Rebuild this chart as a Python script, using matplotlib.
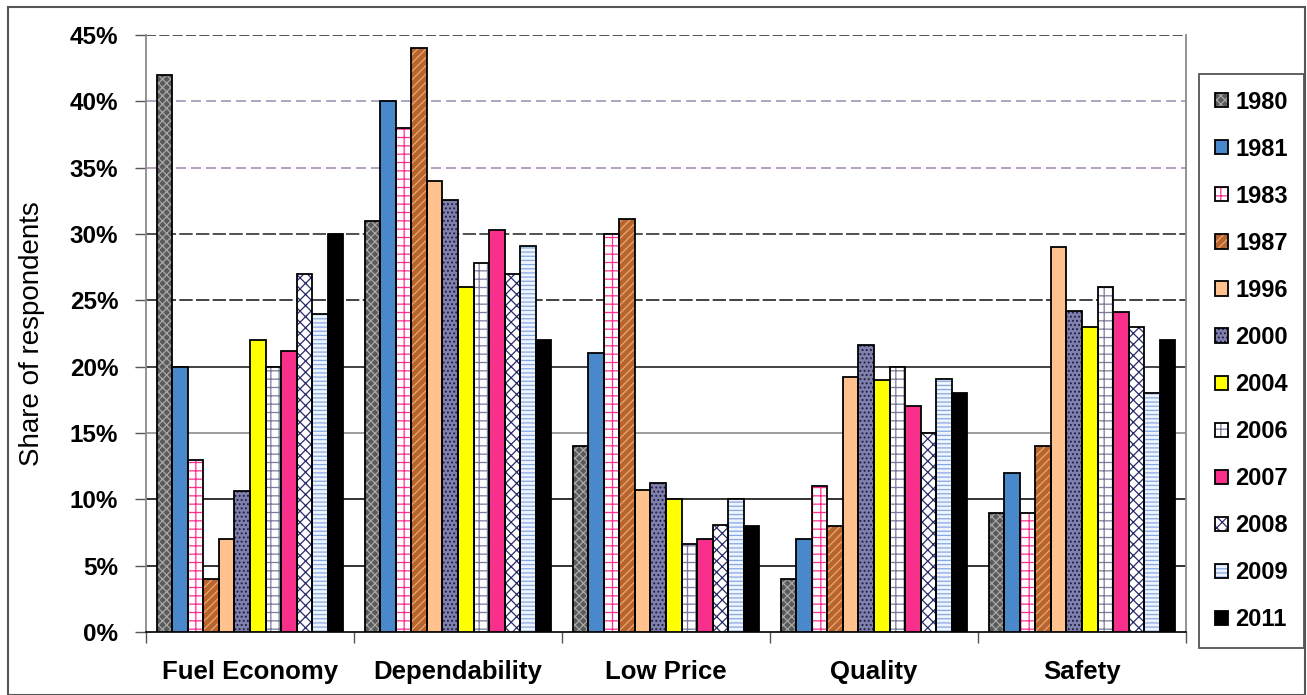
import matplotlib
matplotlib.use("Agg")
import matplotlib.pyplot as plt
import numpy as np
from matplotlib.patches import Patch, Rectangle
from matplotlib.legend_handler import HandlerTuple

plt.rcParams['font.family'] = ['Liberation Sans', 'DejaVu Sans']
plt.rcParams['hatch.linewidth'] = 0.9

categories = ["Fuel Economy", "Dependability", "Low Price", "Quality", "Safety"]
years = ["1980", "1981", "1983", "1987", "1996", "2000",
         "2004", "2006", "2007", "2008", "2009", "2011"]

# share of respondents (%) per year, ordered as in `categories`
s1980 = [42, 31, 14, 4, 9]
s1981 = [20, 40, 21, 7, 12]
s1983 = [13, 38, 30, 11, 9]
s1987 = [4, 44, 31.1, 8, 14]
s1996 = [7, 34, 10.7, 19.2, 29]
s2000 = [10.6, 32.6, 11.2, 21.6, 24.2]
s2004 = [22, 26, 10, 19, 23]
s2006 = [20, 27.8, 6.6, 20, 26]
s2007 = [21.2, 30.3, 7, 17, 24.1]
s2008 = [27, 27, 8.1, 15, 23]
s2009 = [24, 29.1, 10, 19.1, 18]
s2011 = [30, 22, 8, 18, 22]
series = [s1980, s1981, s1983, s1987, s1996, s2000,
          s2004, s2006, s2007, s2008, s2009, s2011]

yticks = [0, 5, 10, 15, 20, 25, 30, 35, 40, 45]

# fill colour, pattern colour, hatch pattern for each year
styles = [
    ("#5a5a5a", "#a8a8a8", "xxxx"),
    ("#4a88cc", "#5b97d6", ""),
    ("#ffffff", "#ff2f8e", "++"),
    ("#b8642c", "#e7a878", "////"),
    ("#ffc18e", "#ffd6b0", ""),
    ("#8080a8", "#1c1c52", "...."),
    ("#ffff00", "#ffff00", ""),
    ("#ffffff", "#7a7a9a", "++"),
    ("#f8308c", "#f8308c", ""),
    ("#ffffff", "#2a2a6a", "xxx"),
    ("#eef4ff", "#86a8e0", "----"),
    ("#000000", "#000000", ""),
]

W, H = 1307, 695
fig = plt.figure(figsize=(W / 100, H / 100), dpi=100)
ax = fig.add_axes([146 / W, 63 / H, (1186 - 146) / W, (632 - 35) / H])

n = len(years)
bw = 0.0747
x = np.arange(len(categories))
handles = []
for i, (vals, (fc, hc, hatch)) in enumerate(zip(series, styles)):
    pos = x + (i - (n - 1) / 2) * bw
    ax.bar(pos, vals, bw, color=fc, edgecolor=hc, hatch=hatch, linewidth=0, zorder=3)
    ax.bar(pos, vals, bw, fill=False, edgecolor="black", linewidth=1.3, zorder=4)
    h_fill = Patch(facecolor=fc, edgecolor=hc, hatch=hatch, linewidth=0)
    h_edge = Patch(facecolor="none", edgecolor="black", linewidth=1.3)
    handles.append((h_fill, h_edge))

ax.set_xlim(-0.5, len(categories) - 0.5)
ax.set_ylim(0, 45)

# horizontal gridlines
grid_styles = {
    45: ("#333333", (0, (6, 2))),
    40: ("#9a9ab4", (0, (6, 3))),
    35: ("#a890b0", (0, (6, 3))),
    30: ("#333333", (0, (8, 2))),
    25: ("#222222", (0, (8, 2))),
    20: ("#222222", "-"),
    15: ("#8c8c8c", "-"),
    10: ("#111111", "-"),
    5: ("#111111", "-"),
}
for yv, (col, ls) in grid_styles.items():
    ax.axhline(yv, color=col, linestyle=ls, linewidth=1.2, zorder=1)

ax.set_yticks(yticks)
ax.set_yticklabels([f"{v}%" for v in yticks], fontsize=17.5, fontweight="bold")
ax.tick_params(axis="y", length=8, color="#555555", width=1, pad=12)

ax.set_xticks(x)
ax.set_xticklabels(categories, fontsize=18.5, fontweight="bold")
ax.tick_params(axis="x", length=0, pad=20)
ax.set_xticks(np.arange(len(categories) + 1) - 0.5, minor=True)
ax.tick_params(axis="x", which="minor", length=8, color="#555555", width=1)

for side in ("left", "right"):
    ax.spines[side].set_color("#8a8a8a")
    ax.spines[side].set_linewidth(1.3)
ax.spines["top"].set_visible(False)
ax.spines["bottom"].set_color("#111111")
ax.spines["bottom"].set_linewidth(1.3)

ax.set_ylabel("Share of respondents", fontsize=20, labelpad=18)

leg = fig.legend(handles, years, handler_map={tuple: HandlerTuple(ndivide=1)},
                 loc="center", bbox_to_anchor=(1251.5 / W, 1 - 361 / H),
                 prop={"size": 17, "weight": "bold"},
                 handlelength=0.55, handleheight=0.55, handletextpad=0.3,
                 labelspacing=1.02, borderpad=0.7, fancybox=False,
                 edgecolor="#555555", framealpha=1)
leg.get_frame().set_linewidth(1.3)

# outer chart border
fig.patches.append(Rectangle((8 / W, 0), (1305 - 8) / W, 1 - 7 / H,
                             transform=fig.transFigure, fill=False,
                             edgecolor="#555555", linewidth=1.5))

fig.savefig("out.png", dpi=100)
